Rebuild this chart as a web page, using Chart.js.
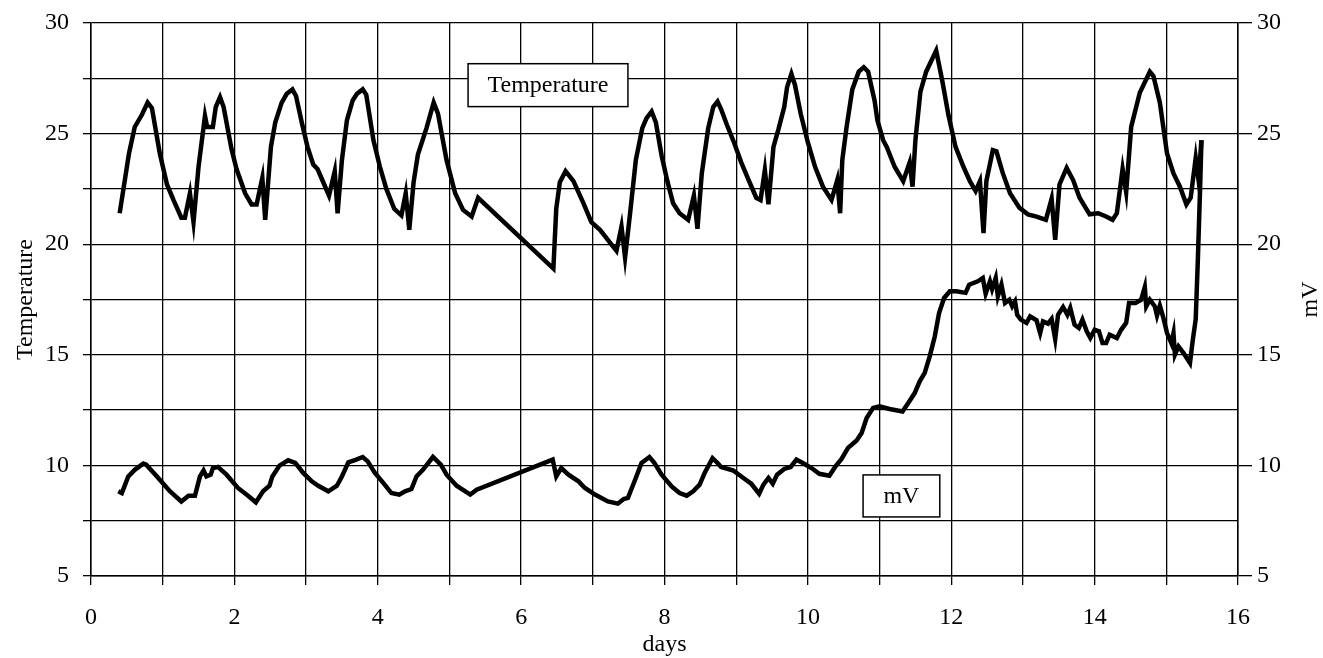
<!DOCTYPE html>
<html>
<head>
<meta charset="utf-8">
<script src="https://cdn.jsdelivr.net/npm/chart.js@4.4.0/dist/chart.umd.min.js"></script>
<style>
  html, body { margin: 0; padding: 0; background: #fff; }
  #wrap { width: 1323px; height: 658px; }
</style>
</head>
<body>
<div id="wrap"><canvas id="c" width="1323" height="658"></canvas></div>
<script>
// ---- data ----
const tempDays = [0.40,0.53,0.61,0.71,0.79,0.85,0.96,1.06,1.15,1.26,1.31,1.38,1.43,1.50,1.59,1.62,1.70,1.74,1.80,1.85,1.96,2.03,2.15,2.24,2.31,2.39,2.43,2.51,2.57,2.66,2.73,2.81,2.86,2.94,3.02,3.10,3.16,3.24,3.32,3.40,3.44,3.50,3.57,3.65,3.71,3.79,3.84,3.94,4.03,4.12,4.23,4.33,4.39,4.44,4.50,4.56,4.68,4.78,4.84,4.96,5.08,5.19,5.31,5.40,6.45,6.49,6.54,6.62,6.73,6.87,6.98,7.10,7.21,7.33,7.40,7.45,7.52,7.60,7.69,7.75,7.82,7.88,7.96,8.04,8.12,8.21,8.33,8.41,8.46,8.52,8.61,8.68,8.74,8.79,8.87,8.97,9.07,9.18,9.28,9.34,9.40,9.45,9.52,9.59,9.67,9.71,9.77,9.82,9.90,10.00,10.10,10.21,10.33,10.41,10.45,10.48,10.54,10.62,10.71,10.78,10.84,10.93,10.97,11.05,11.10,11.21,11.33,11.42,11.46,11.50,11.57,11.65,11.79,11.88,11.96,12.06,12.17,12.26,12.34,12.40,12.45,12.49,12.58,12.63,12.72,12.82,12.95,13.07,13.19,13.32,13.40,13.45,13.51,13.61,13.70,13.79,13.93,14.05,14.16,14.25,14.31,14.39,14.44,14.51,14.63,14.77,14.82,14.91,15.01,15.10,15.19,15.28,15.34,15.41,15.45,15.49];
const tempValues = [21.4,24.1,25.3,25.85,26.4,26.15,24.1,22.7,22.0,21.2,21.2,22.3,21.0,23.5,25.8,25.3,25.3,26.2,26.65,26.2,24.3,23.4,22.3,21.8,21.8,23.0,21.1,24.4,25.5,26.4,26.8,27.0,26.7,25.5,24.4,23.6,23.4,22.8,22.2,23.3,21.4,23.8,25.6,26.5,26.8,27.0,26.75,24.7,23.5,22.5,21.6,21.3,22.3,20.65,22.8,24.05,25.25,26.4,25.9,23.8,22.3,21.55,21.25,22.1,18.9,21.6,22.8,23.3,22.85,21.85,21.0,20.65,20.2,19.7,20.8,19.4,21.4,23.8,25.25,25.7,26.0,25.5,24.0,22.85,21.85,21.4,21.1,22.2,20.7,23.2,25.25,26.2,26.45,26.1,25.4,24.6,23.7,22.85,22.1,22.0,23.35,21.8,24.4,25.2,26.2,27.1,27.7,27.2,25.9,24.6,23.5,22.6,22.0,22.9,21.4,23.8,25.3,27.0,27.8,28.0,27.8,26.5,25.6,24.7,24.4,23.5,22.85,23.7,22.6,24.7,26.9,27.8,28.75,27.3,25.85,24.4,23.5,22.85,22.4,22.85,20.5,22.85,24.25,24.2,23.2,22.3,21.65,21.35,21.25,21.1,22.05,20.2,22.7,23.45,22.9,22.1,21.35,21.4,21.25,21.1,21.4,23.4,22.35,25.3,26.85,27.8,27.6,26.4,24.1,23.2,22.6,21.8,22.1,23.9,22.9,24.7];

const mvDays = [0.38,0.43,0.52,0.61,0.73,0.77,0.92,1.10,1.26,1.36,1.45,1.52,1.57,1.61,1.67,1.70,1.77,1.89,2.05,2.19,2.30,2.40,2.49,2.53,2.63,2.75,2.85,2.96,3.08,3.17,3.31,3.43,3.50,3.59,3.70,3.79,3.86,3.96,4.08,4.19,4.30,4.38,4.47,4.54,4.63,4.77,4.88,4.96,5.10,5.29,5.38,6.44,6.49,6.56,6.66,6.80,6.89,7.03,7.21,7.35,7.43,7.49,7.59,7.68,7.79,7.86,7.96,8.10,8.21,8.31,8.40,8.49,8.56,8.67,8.74,8.79,8.96,9.10,9.21,9.32,9.38,9.45,9.51,9.57,9.67,9.76,9.84,9.93,10.05,10.16,10.30,10.38,10.47,10.56,10.68,10.75,10.82,10.91,11.00,11.14,11.32,11.40,11.49,11.56,11.63,11.70,11.77,11.83,11.90,11.98,12.07,12.20,12.25,12.37,12.44,12.48,12.54,12.57,12.62,12.65,12.70,12.75,12.81,12.85,12.89,12.92,12.97,13.05,13.10,13.19,13.24,13.28,13.35,13.40,13.45,13.49,13.56,13.62,13.66,13.72,13.78,13.83,13.89,13.94,14.00,14.06,14.11,14.16,14.21,14.31,14.37,14.44,14.48,14.57,14.65,14.70,14.72,14.77,14.84,14.87,14.91,14.96,15.01,15.07,15.10,15.12,15.17,15.24,15.33,15.37,15.41,15.44,15.47,15.49];
const mvValues = [8.83,8.75,9.5,9.8,10.08,10.03,9.5,8.83,8.37,8.63,8.63,9.5,9.77,9.5,9.58,9.88,9.93,9.58,8.98,8.63,8.33,8.83,9.08,9.5,9.99,10.23,10.11,9.66,9.28,9.08,8.83,9.08,9.5,10.14,10.26,10.38,10.18,9.66,9.2,8.75,8.68,8.83,8.93,9.5,9.8,10.38,10.03,9.58,9.08,8.68,8.9,10.26,9.5,9.88,9.58,9.28,8.98,8.68,8.37,8.27,8.48,8.53,9.35,10.11,10.38,10.11,9.58,9.05,8.75,8.63,8.83,9.13,9.66,10.33,10.11,9.93,9.77,9.43,9.17,8.72,9.13,9.43,9.17,9.58,9.84,9.93,10.26,10.11,9.88,9.62,9.53,9.93,10.29,10.79,11.13,11.47,12.14,12.6,12.67,12.55,12.44,12.82,13.27,13.8,14.18,14.93,15.83,16.89,17.57,17.87,17.87,17.8,18.17,18.32,18.47,17.76,18.32,17.97,18.47,17.64,18.17,17.34,17.49,17.19,17.41,16.81,16.59,16.44,16.74,16.56,15.98,16.51,16.41,16.62,15.71,16.81,17.16,16.81,17.12,16.36,16.21,16.59,16.06,15.76,16.13,16.06,15.53,15.53,15.91,15.76,16.13,16.44,17.34,17.34,17.49,18.06,17.19,17.49,17.19,16.77,17.22,16.66,15.98,15.53,15.98,15.0,15.38,15.08,14.63,15.68,16.6,19.3,22.4,24.7];

const xTickLabels = ['0','2','4','6','8','10','12','14','16'];
const yTickLabels = ['5','10','15','20','25','30'];
const seriesNames = ['Temperature', 'mV'];
const axisTitles = { x: 'days', left: 'Temperature', right: 'mV' };

// ---- chart ----
const FONT = "'Liberation Serif', 'Times New Roman', Times, serif";
const BLACK = '#000';

const boxLabels = {
  id: 'boxLabels',
  afterDraw(chart, args, opts) {
    const {ctx, scales} = chart;
    ctx.save();
    // series label boxes
    opts.boxes.forEach(b => {
      const x1 = scales.x.getPixelForValue(b.x0), x2 = scales.x.getPixelForValue(b.x1);
      const y1 = scales.y.getPixelForValue(b.y0), y2 = scales.y.getPixelForValue(b.y1);
      ctx.fillStyle = '#fff';
      ctx.fillRect(x1, y1, x2 - x1, y2 - y1);
      ctx.lineWidth = 1.5;
      ctx.strokeStyle = BLACK;
      ctx.strokeRect(x1, y1, x2 - x1, y2 - y1);
      ctx.fillStyle = BLACK;
      ctx.font = opts.fontSize + 'px ' + FONT;
      ctx.textAlign = 'center';
      ctx.textBaseline = 'middle';
      ctx.fillText(b.text, (x1 + x2) / 2, (y1 + y2) / 2 + 1);
    });
    // right axis title, reading bottom-to-top
    const r = scales.y2;
    ctx.translate(r.right - opts.rightTitleInset, (chart.chartArea.top + chart.chartArea.bottom) / 2);
    ctx.rotate(-Math.PI / 2);
    ctx.font = opts.fontSize + 'px ' + FONT;
    ctx.textAlign = 'center';
    ctx.textBaseline = 'middle';
    ctx.fillStyle = BLACK;
    ctx.fillText(axisTitles.right, 0, 0);
    ctx.restore();
  }
};

new Chart(document.getElementById('c'), {
  type: 'line',
  data: {
    datasets: [
      {
        label: seriesNames[0],
        data: tempDays.map((d, i) => ({x: d, y: tempValues[i]})),
        yAxisID: 'y',
        borderColor: BLACK, borderWidth: 4.5, pointRadius: 0, tension: 0, fill: false,
        borderJoinStyle: 'miter'
      },
      {
        label: seriesNames[1],
        data: mvDays.map((d, i) => ({x: d, y: mvValues[i]})),
        yAxisID: 'y2',
        borderColor: BLACK, borderWidth: 4.5, pointRadius: 0, tension: 0, fill: false,
        borderJoinStyle: 'miter'
      }
    ]
  },
  options: {
    responsive: false,
    animation: false,
    devicePixelRatio: 1,
    layout: { padding: { top: 23, left: 0, right: 0, bottom: 0 } },
    plugins: {
      legend: { display: false },
      tooltip: { enabled: false },
      boxLabels: {
        fontSize: 24,
        rightTitleInset: 12,
        boxes: [
          { text: seriesNames[0], x0: 5.26, x1: 7.49, y0: 28.16, y1: 26.22 },
          { text: seriesNames[1], x0: 10.77, x1: 11.84, y0: 9.57, y1: 7.67 }
        ]
      }
    },
    scales: {
      x: {
        type: 'linear', min: 0, max: 16,
        afterFit: s => { s.height = 82; },
        ticks: {
          stepSize: 1, autoSkip: false, maxRotation: 0, padding: 18,
          color: BLACK, font: { family: FONT, size: 24 },
          callback: v => (v % 2 === 0 ? xTickLabels[v / 2] : '')
        },
        grid: { color: BLACK, lineWidth: 1.3, tickLength: 9, tickColor: BLACK },
        border: { color: BLACK, width: 1.5 },
        title: { display: true, text: axisTitles.x, color: BLACK, font: { family: FONT, size: 24 }, padding: { top: 0, bottom: -1 } }
      },
      y: {
        type: 'linear', position: 'left', min: 5, max: 30,
        afterFit: s => { s.width = 91; s.paddingTop = 0; s.paddingBottom = 0; },
        ticks: {
          stepSize: 2.5, autoSkip: false, padding: 14,
          color: BLACK, font: { family: FONT, size: 24 },
          callback: v => (v % 5 === 0 ? yTickLabels[v / 5 - 1] : '')
        },
        grid: { color: BLACK, lineWidth: 1.3, tickLength: 8, tickColor: BLACK },
        border: { color: BLACK, width: 1.5 },
        title: { display: true, text: axisTitles.left, color: BLACK, font: { family: FONT, size: 24 }, padding: { top: 11, bottom: 0 } }
      },
      y2: {
        type: 'linear', position: 'right', min: 5, max: 30,
        afterFit: s => { s.width = 85; s.paddingTop = 0; s.paddingBottom = 0; },
        ticks: {
          stepSize: 5, autoSkip: false, padding: 5,
          color: BLACK, font: { family: FONT, size: 24 },
          callback: v => yTickLabels[v / 5 - 1]
        },
        grid: { drawOnChartArea: false, color: BLACK, lineWidth: 1.3, tickLength: 14, tickColor: BLACK },
        border: { color: BLACK, width: 1.5 },
        title: { display: false }
      }
    }
  },
  plugins: [boxLabels]
});
</script>
</body>
</html>
